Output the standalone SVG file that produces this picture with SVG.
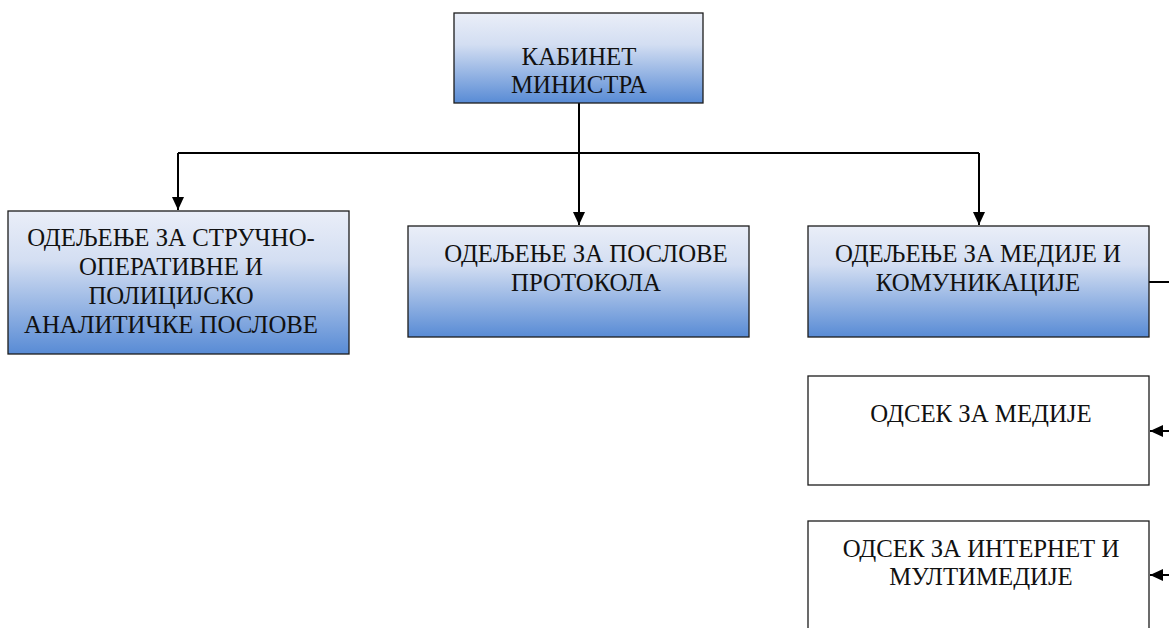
<svg xmlns="http://www.w3.org/2000/svg" width="1169" height="628" viewBox="0 0 1169 628">
<style>
.box{stroke:#1c1c1c;stroke-width:1.3}
.g{fill:url(#grad)}
.w{fill:#ffffff}
text{font-family:"Liberation Serif","Times New Roman",serif;font-size:24.8px;fill:#111;text-anchor:middle}
.c{fill:none;stroke:#000;stroke-width:2}
</style>
<defs>
<linearGradient id="grad" x1="0" y1="0" x2="0" y2="1">
<stop offset="0" stop-color="#eaeef8"/>
<stop offset="0.35" stop-color="#d3def2"/>
<stop offset="1" stop-color="#588bd5"/>
</linearGradient>
<marker id="ah" viewBox="0 0 13 12" refX="13" refY="6" markerWidth="13" markerHeight="12" markerUnits="userSpaceOnUse" orient="auto">
<path d="M0,0 L13,6 L0,12 z" fill="#000"/>
</marker>
</defs>
<g id="connectors">
<path class="c" d="M579,103 V153"/>
<path class="c" d="M178,153 H979"/>
<path class="c" d="M178,153 V210" marker-end="url(#ah)"/>
<path class="c" d="M579,153 V225" marker-end="url(#ah)"/>
<path class="c" d="M979,153 V225" marker-end="url(#ah)"/>
<path class="c" d="M1149,282 H1169"/>
<path class="c" d="M1169,431 H1150" marker-end="url(#ah)"/>
<path class="c" d="M1169,575 H1150" marker-end="url(#ah)"/>
</g>
<g id="kabinet">
<rect class="box g" x="454" y="13" width="249" height="90"/>
<text x="579" y="65">КАБИНЕТ</text>
<text x="579" y="93">МИНИСТРА</text>
</g>
<g id="odeljenje-strucno">
<rect class="box g" x="8" y="211" width="341" height="143"/>
<text x="171" y="246">ОДЕЉЕЊЕ ЗА СТРУЧНО-</text>
<text x="171" y="275">ОПЕРАТИВНЕ И</text>
<text x="171" y="304">ПОЛИЦИЈСКО</text>
<text x="171" y="333">АНАЛИТИЧКЕ ПОСЛОВЕ</text>
</g>
<g id="odeljenje-protokol">
<rect class="box g" x="408" y="226" width="341" height="111"/>
<text x="586" y="262">ОДЕЉЕЊЕ ЗА ПОСЛОВЕ</text>
<text x="586" y="291">ПРОТОКОЛА</text>
</g>
<g id="odeljenje-mediji">
<rect class="box g" x="808" y="226" width="341" height="111"/>
<text x="978" y="262">ОДЕЉЕЊЕ ЗА МЕДИЈЕ И</text>
<text x="978" y="291">КОМУНИКАЦИЈЕ</text>
</g>
<g id="odsek-mediji">
<rect class="box w" x="808" y="376" width="341" height="109"/>
<text x="981" y="422">ОДСЕК ЗА МЕДИЈЕ</text>
</g>
<g id="odsek-internet">
<rect class="box w" x="808" y="521" width="341" height="120"/>
<text x="981" y="557">ОДСЕК ЗА ИНТЕРНЕТ И</text>
<text x="981" y="585">МУЛТИМЕДИЈЕ</text>
</g>
</svg>
